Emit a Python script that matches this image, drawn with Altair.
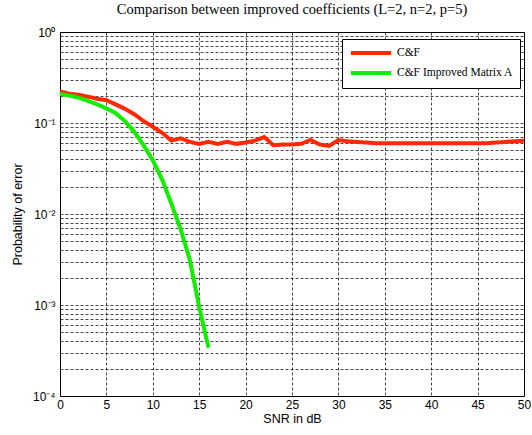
import altair as alt
import pandas as pd

# ---- data ----
snr_red = list(range(0, 51))
pe_red = [0.222, 0.210, 0.205, 0.195, 0.185, 0.178, 0.160, 0.143, 0.125, 0.105,
          0.091, 0.078, 0.064, 0.068, 0.062, 0.059, 0.062, 0.059, 0.062, 0.059,
          0.061, 0.064, 0.070, 0.057, 0.058, 0.058, 0.059, 0.065, 0.058, 0.056,
          0.065, 0.063, 0.062, 0.061, 0.060, 0.060, 0.060, 0.060, 0.060, 0.060,
          0.060, 0.060, 0.060, 0.060, 0.060, 0.060, 0.060, 0.061, 0.062, 0.063,
          0.064]

snr_green = list(range(0, 17))
pe_green = [0.208, 0.200, 0.190, 0.175, 0.160, 0.145, 0.128, 0.105, 0.080, 0.057,
            0.039, 0.024, 0.013, 0.0068, 0.0031, 0.00095, 0.00034]

series_names = ["C&F", "C&F Improved Matrix A"]
series_colors = ["#ff2a00", "#11ee00"]

x_ticks = list(range(0, 51, 5))
y_ticks = sorted({round(k * 10 ** e, 8) for e in range(-4, 0) for k in range(1, 10)} | {1.0})
y_label_expr = ("datum.value == 1 ? '10⁰' : datum.value == 0.1 ? '10⁻¹' : "
                "datum.value == 0.01 ? '10⁻²' : datum.value == 0.001 ? '10⁻³' : "
                "datum.value == 0.0001 ? '10⁻⁴' : ''")

df = pd.concat([
    pd.DataFrame({"snr": snr_red, "pe": pe_red, "series": series_names[0], "order": 0}),
    pd.DataFrame({"snr": snr_green, "pe": pe_green, "series": series_names[1], "order": 1}),
])

common_axis = dict(grid=True, gridColor="#000000", gridDash=[3, 2], gridWidth=0.8,
                   gridOpacity=0.9, domain=False, ticks=False,
                   labelFont="Liberation Sans", labelFontSize=12, labelColor="black",
                   titleFont="Liberation Sans", titleFontSize=12.5,
                   titleFontWeight="normal", titleColor="black")

chart = alt.Chart(df).mark_line(strokeWidth=4).encode(
    x=alt.X("snr:Q", title="SNR in dB",
            scale=alt.Scale(domain=[0, 50], nice=False, zero=False),
            axis=alt.Axis(values=x_ticks, labelFlush=False, labelPadding=3,
                          titlePadding=2, **common_axis)),
    y=alt.Y("pe:Q", title="Probability of error",
            scale=alt.Scale(type="log", domain=[0.0001, 1], nice=False),
            axis=alt.Axis(values=y_ticks, labelExpr=y_label_expr, labelOverlap=False,
                          labelPadding=5, titlePadding=8, **common_axis)),
    color=alt.Color("series:N",
                    scale=alt.Scale(domain=series_names, range=series_colors),
                    legend=alt.Legend(title=None, orient="none", legendX=282, legendY=7,
                                      fillColor="white", strokeColor="black", padding=7,
                                      symbolType="M-1,0L7,0", symbolStrokeWidth=4,
                                      symbolSize=100, labelFont="Liberation Serif",
                                      labelFontSize=11.5, labelColor="black",
                                      rowPadding=4, labelOffset=34)),
    detail="series:N",
    order="order:Q",
).properties(
    width=464, height=364,
    autosize=alt.AutoSizeParams(type="none"),
    padding={"left": 60, "top": 32, "right": 8, "bottom": 39},
    background="white",
    title=alt.TitleParams("Comparison between improved coefficients (L=2, n=2, p=5)",
                          font="Liberation Serif", fontSize=14.5, fontWeight="normal",
                          color="black", anchor="middle", offset=9),
).configure_view(
    stroke="black", strokeWidth=1
)

chart.save("out.html", embed_options={"renderer": "svg", "actions": False})
